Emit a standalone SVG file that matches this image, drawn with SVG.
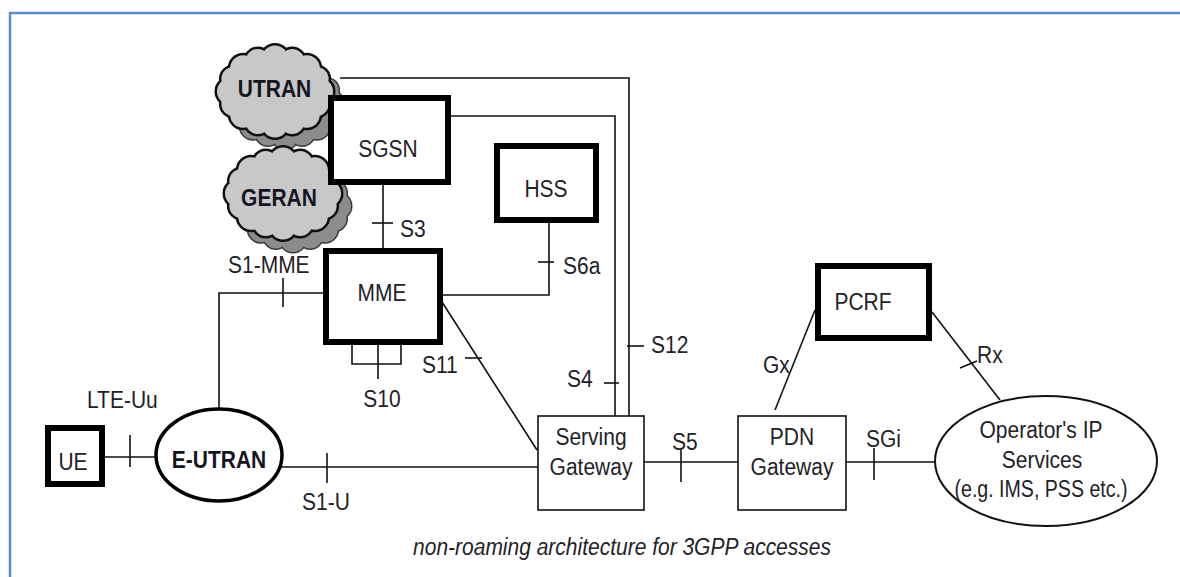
<svg xmlns="http://www.w3.org/2000/svg" xmlns:xlink="http://www.w3.org/1999/xlink" width="1180" height="577" viewBox="0 0 1180 577">
<style>
text{font-family:"Liberation Sans",Arial,sans-serif;font-size:21px;fill:#222228}
.mid{text-anchor:middle}
.bold{font-weight:bold;fill:#15151f}
.thick{fill:#fff;stroke:#000;stroke-width:6}
.thin{fill:#fff;stroke:#111;stroke-width:1.6}
.conn path{fill:none;stroke:#111;stroke-width:1.6}
.cap{font-style:italic}
</style>
<defs>
<g id="cs">
<ellipse cx="0" cy="0" rx="47" ry="35"/>
<circle cx="45" cy="0" r="13"/>
<circle cx="41.6" cy="12.6" r="12"/>
<circle cx="31.8" cy="23.3" r="13"/>
<circle cx="17.2" cy="30.5" r="12"/>
<circle cx="0" cy="33" r="13"/>
<circle cx="-17.2" cy="30.5" r="12"/>
<circle cx="-31.8" cy="23.3" r="13"/>
<circle cx="-41.6" cy="12.6" r="12"/>
<circle cx="-45" cy="0" r="13"/>
<circle cx="-41.6" cy="-12.6" r="12"/>
<circle cx="-31.8" cy="-23.3" r="13"/>
<circle cx="-17.2" cy="-30.5" r="12"/>
<circle cx="0" cy="-33" r="13"/>
<circle cx="17.2" cy="-30.5" r="12"/>
<circle cx="31.8" cy="-23.3" r="13"/>
<circle cx="41.6" cy="-12.6" r="12"/>
</g>
</defs>
<rect x="0" y="0" width="1180" height="577" fill="#fff"/>
<path d="M10,577 V13 H1180" fill="none" stroke="#5b8bcf" stroke-width="2.5"/>

<g id="connectors" class="conn">
<path d="M340,78 H629 V416"/>
<path d="M451,116 H615 V416"/>
<path d="M383,185 V249"/><path d="M372,223 H393"/>
<path d="M549,223 V295 H433"/><path d="M538,262 H554"/>
<path d="M328,293 H219 V409"/><path d="M283,278 V307"/>
<path d="M352,334 V364 H401 V334"/><path d="M378,345 V379"/>
<path d="M442,302 L537,450"/><path d="M465,358 H482"/>
<path d="M105,457 H156"/><path d="M130,435 V467"/>
<path d="M281,467 H538"/><path d="M327,453 V483"/>
<path d="M604,383 H619"/>
<path d="M627,346 H644"/>
<path d="M644,462 H738"/><path d="M681,450 V482"/>
<path d="M775,410 L815,310"/>
<path d="M932,312 L1000,400"/><path d="M960,368 L977,361"/>
<path d="M846,462 H935"/><path d="M874,448 V480"/>
</g>

<g id="utran">
<use xlink:href="#cs" transform="translate(285,103)" fill="#8c8c8c" stroke="#3a3a3a" stroke-width="3"/>
<use xlink:href="#cs" transform="translate(285,103)" fill="#8c8c8c"/>
<use xlink:href="#cs" transform="translate(275,91.5)" fill="#c8c8c8" stroke="#111" stroke-width="5"/>
<use xlink:href="#cs" transform="translate(275,91.5)" fill="#c8c8c8"/>
<text class="mid bold" transform="translate(274.5 97) scale(1 1.15)">UTRAN</text>
</g>
<g id="geran">
<use xlink:href="#cs" transform="translate(293,206)" fill="#8c8c8c" stroke="#3a3a3a" stroke-width="3"/>
<use xlink:href="#cs" transform="translate(293,206)" fill="#8c8c8c"/>
<use xlink:href="#cs" transform="translate(283,193.5)" fill="#c8c8c8" stroke="#111" stroke-width="5"/>
<use xlink:href="#cs" transform="translate(283,193.5)" fill="#c8c8c8"/>
<text class="mid bold" transform="translate(279 206) scale(1 1.15)">GERAN</text>
</g>

<g id="sgsn">
<rect class="thick" x="331" y="98" width="117" height="84"/>
<text class="mid" transform="translate(388 157) scale(1 1.15)">SGSN</text>
</g>
<g id="hss">
<rect class="thick" x="497" y="146" width="99" height="74"/>
<text class="mid" transform="translate(546 197) scale(1 1.15)">HSS</text>
</g>
<g id="mme">
<rect class="thick" x="326" y="251" width="114" height="91"/>
<text class="mid" transform="translate(382 301) scale(1 1.15)">MME</text>
</g>
<g id="pcrf">
<rect class="thick" x="818" y="266" width="111" height="72"/>
<text class="mid" transform="translate(863 310) scale(1 1.15)">PCRF</text>
</g>
<g id="ue">
<rect class="thick" x="48" y="428" width="54" height="56"/>
<text class="mid" transform="translate(73 470) scale(1 1.15)">UE</text>
</g>
<g id="eutran">
<ellipse cx="219" cy="455" rx="63" ry="46" fill="#fff" stroke="#000" stroke-width="3.5"/>
<text class="mid bold" transform="translate(219 468) scale(1 1.15)">E-UTRAN</text>
</g>
<g id="sgw">
<rect class="thin" x="538" y="416" width="106" height="94"/>
<text class="mid" transform="translate(591 445) scale(1 1.15)">Serving</text>
<text class="mid" transform="translate(591 475) scale(1 1.15)">Gateway</text>
</g>
<g id="pgw">
<rect class="thin" x="738" y="416" width="108" height="94"/>
<text class="mid" transform="translate(792 445) scale(1 1.15)">PDN</text>
<text class="mid" transform="translate(792 475) scale(1 1.15)">Gateway</text>
</g>
<g id="ipservices">
<ellipse cx="1046" cy="461" rx="111" ry="65" fill="#fff" stroke="#111" stroke-width="2"/>
<text class="mid" transform="translate(1041 438) scale(1 1.15)">Operator's IP</text>
<text class="mid" transform="translate(1042 468) scale(1 1.15)">Services</text>
<text class="mid" transform="translate(1041 497) scale(1 1.15)" textLength="173" lengthAdjust="spacingAndGlyphs">(e.g. IMS, PSS etc.)</text>
</g>

<g id="labels">
<text transform="translate(400 237) scale(1 1.15)">S3</text>
<text transform="translate(228 273) scale(1 1.15)">S1-MME</text>
<text transform="translate(563 274) scale(1 1.15)">S6a</text>
<text transform="translate(422 373) scale(1 1.15)">S11</text>
<text class="mid" transform="translate(382 407) scale(1 1.15)">S10</text>
<text transform="translate(567 387) scale(1 1.15)">S4</text>
<text transform="translate(651 353) scale(1 1.15)">S12</text>
<text transform="translate(87 408) scale(1 1.15)">LTE-Uu</text>
<text transform="translate(302 510) scale(1 1.15)">S1-U</text>
<text transform="translate(672 450) scale(1 1.15)">S5</text>
<text transform="translate(763 373) scale(1 1.15)">Gx</text>
<text transform="translate(977 363) scale(1 1.15)">Rx</text>
<text transform="translate(866 447) scale(1 1.15)">SGi</text>
<text class="mid cap" transform="translate(622 555) scale(1 1.15)">non-roaming architecture for 3GPP accesses</text>
</g>
</svg>
